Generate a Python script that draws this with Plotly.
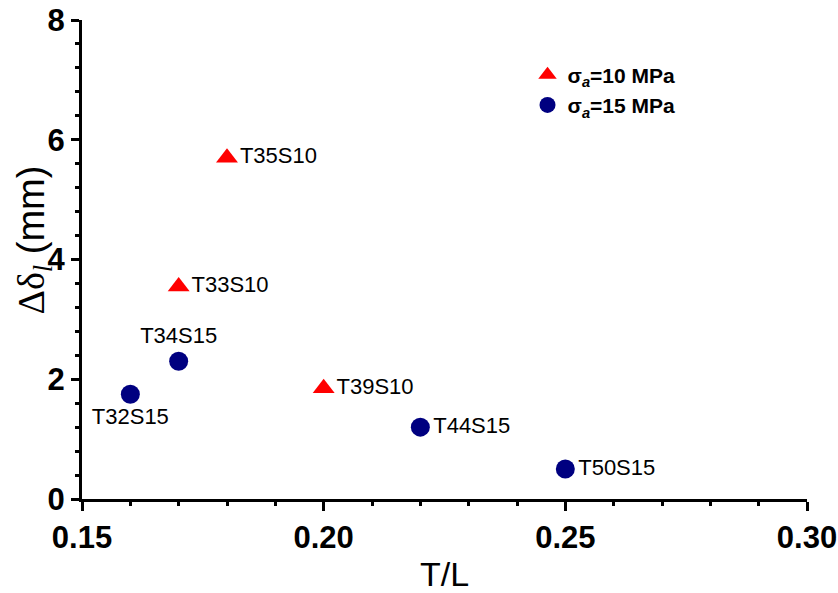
import plotly.graph_objects as go

# Specimens loaded at sigma_a = 10 MPa
s10_names = ["T35S10", "T33S10", "T39S10"]
s10_tl = [0.18, 0.17, 0.20]
s10_dd = [5.7, 3.55, 1.85]
s10_pos = ["middle right", "middle right", "middle right"]

# Specimens loaded at sigma_a = 15 MPa
s15_names = ["T32S15", "T34S15", "T44S15", "T50S15"]
s15_tl = [0.16, 0.17, 0.22, 0.25]
s15_dd = [1.75, 2.3, 1.2, 0.5]
s15_pos = ["bottom center", "top center", "middle right", "middle right"]

FONT = "Liberation Sans, Arial, sans-serif"

fig = go.Figure()
fig.add_trace(go.Scatter(
    x=s10_tl, y=s10_dd, mode="markers+text", text=s10_names,
    textposition=s10_pos, textfont=dict(family=FONT, size=22, color="black"),
    marker=dict(symbol="triangle-up", size=19, color="#ff0000"),
    name="<b>σ<sub><i>a</i></sub>=10 MPa</b>",
))
fig.add_trace(go.Scatter(
    x=s15_tl, y=s15_dd, mode="markers+text", text=s15_names,
    textposition=s15_pos, textfont=dict(family=FONT, size=22, color="black"),
    marker=dict(symbol="circle", size=19, color="#000080"),
    name="<b>σ<sub><i>a</i></sub>=15 MPa</b>",
))

fig.update_layout(
    width=838, height=593,
    margin=dict(l=82, r=31, t=20, b=94, autoexpand=False),
    paper_bgcolor="white", plot_bgcolor="white",
    font=dict(family=FONT, color="black"),
    showlegend=True,
    legend=dict(x=0.6145, y=0.928, xanchor="left", yanchor="top",
                yref="paper", xref="paper",
                font=dict(family=FONT, size=21, color="black"),
                bgcolor="rgba(0,0,0,0)", tracegroupgap=0),
    annotations=[dict(
        text="<span style=\"font-family:'Liberation Serif'\">Δδ<sub><i>l</i></sub></span> (mm)",
        font=dict(family=FONT, size=38, color="black"),
        textangle=-90, xref="paper", yref="paper",
        x=-0.066, y=0.54, xanchor="center", yanchor="middle",
        showarrow=False,
    )],
)

fig.update_xaxes(
    range=[0.15, 0.30], tickvals=[0.15, 0.20, 0.25, 0.30],
    ticktext=["0.15", "0.20", "0.25", "0.30"],
    showgrid=False, zeroline=False, automargin=False,
    showline=True, linecolor="black", linewidth=3,
    ticks="outside", ticklen=9, tickwidth=3, tickcolor="black",
    minor=dict(dtick=0.01, tick0=0.15, ticks="outside", ticklen=4, tickwidth=3, tickcolor="black"),
    tickfont=dict(family=FONT, size=31, color="black", weight="bold"),
    title=dict(text="T/L", font=dict(family=FONT, size=34, color="black"), standoff=8),
)
fig.update_yaxes(
    range=[0, 8], tickvals=[0, 2, 4, 6, 8],
    showgrid=False, zeroline=False, automargin=False,
    showline=True, linecolor="black", linewidth=3,
    ticks="outside", ticklen=8, tickwidth=3, tickcolor="black",
    minor=dict(dtick=0.4, tick0=0, ticks="outside", ticklen=4, tickwidth=3, tickcolor="black"),
    tickfont=dict(family=FONT, size=31, color="black", weight="bold"),
)

fig.write_html("out.html")
